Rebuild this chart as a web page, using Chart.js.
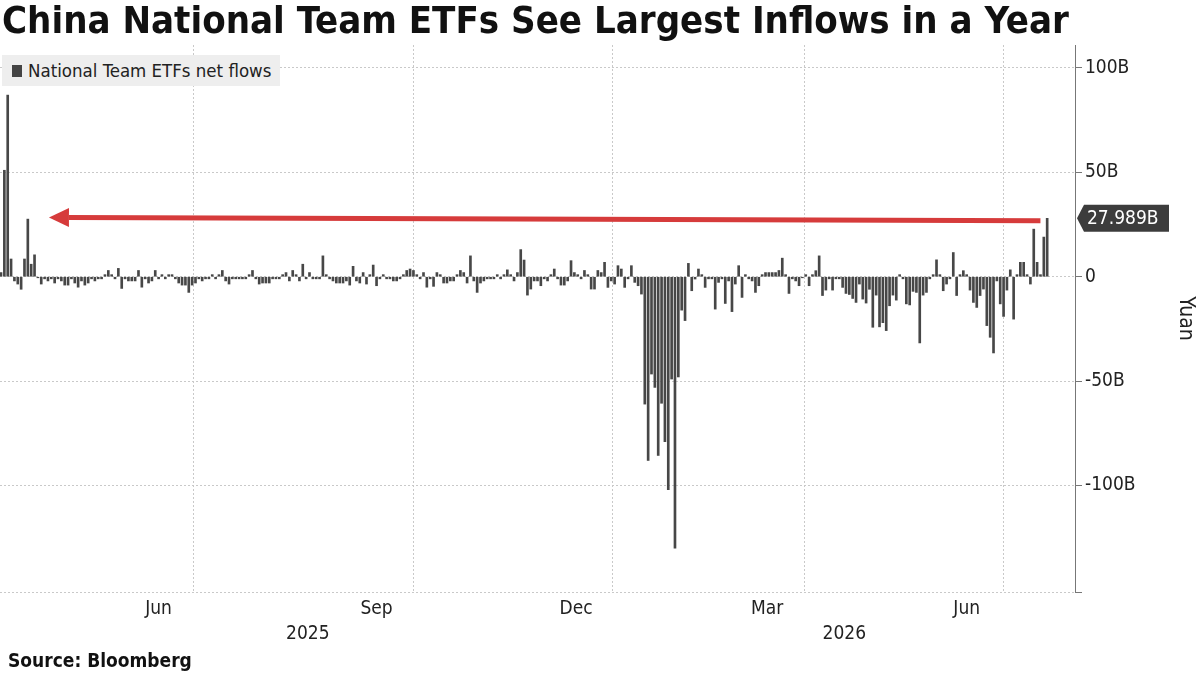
<!DOCTYPE html>
<html>
<head>
<meta charset="utf-8">
<script src="https://cdn.jsdelivr.net/npm/chart.js@4.4.1/dist/chart.umd.min.js"></script>
<style>
  html, body { margin: 0; padding: 0; background: #fff; }
  #wrap { position: relative; width: 1198px; height: 673px; overflow: hidden; }
  #chart { position: absolute; left: 0; top: 0; }
  .title {
    position: absolute; left: 2px; top: -2px; white-space: nowrap;
    font: bold 38px "DejaVu Sans Condensed", "DejaVu Sans", sans-serif; color: #111;
  }
  .legend {
    position: absolute; left: 2px; top: 55px; width: 278px; height: 31px;
    background: #eeeeee; font: 18.5px "DejaVu Sans Condensed", "DejaVu Sans", sans-serif; color: #222;
  }
  .legend i { position: absolute; left: 10px; top: 10px; width: 10px; height: 12px; background: #444; }
  .legend span { position: absolute; left: 26px; top: 5px; white-space: nowrap; }
  .source {
    position: absolute; left: 8px; top: 649px; white-space: nowrap;
    font: bold 19px "DejaVu Sans Condensed", "DejaVu Sans", sans-serif; color: #111;
  }
</style>
</head>
<body>
<div id="wrap">
  <canvas id="chart" width="1198" height="673"></canvas>
  <div class="title">China National Team ETFs See Largest Inflows in a Year</div>
  <div class="legend"><i></i><span>National Team ETFs net flows</span></div>
  <div class="source">Source: Bloomberg</div>
</div>
<script>
// Daily net flows, billion yuan, one value per trading day (Apr 2025 - Jul 2026)
const flowsSpring2025 = [
  2, 51, 87, 8.5, -2, -3.5, -6, 8.5, 27.6, 6, 10.5, -0.5,
  -3.5, -1, -2, -1, -3, -1, -2, -4, -4, -1, -3, -5, -2, -4, -3, -1, -2, -1,
  -1, 1, 3, 1, -1, 4, -5.6, -1, -2, -2, -2, 3, -5, -1, -3, -2, 3, -1, 1, -1,
  1, 1, -1, -3, -4, -4, -7.5, -4, -3, -1, -2, -1, -1,
];
const flowsSummer2025 = [
  1, -1, 1, 3, -2, -3.5, -1, -1, -1, -1, -1, 1, 3, -1, -3.5, -3, -3, -3, -1, -1,
  -1, 1, 2, -2, 3, 1, -2, 6, -1, 2, -1, -1, -1, 10, 1, -1, -2, -3, -3, -3,
  -2, -4, 5, -2, -3, 2, -3.5, 1, 5.6, -4.3, -1, 1, -1, -1, -2, -2, -1, 1, 3, 3.7,
];
const flowsAutumn2025 = [
  3, 1, -1, 2, -5, -1, -4.6, 2, 1, -3, -3, -2, -2, 1, 3, 2, -3, 10, -2, -7.5,
  -3, -2, -1, -1, -1, 1, -1, 1, 3.3, 1, -2, 2, 13, 8, -8.8, -5.9, -2, -2, -4.3, -1,
  -2, 1, 3.7, -1, -4, -4, -2, 7.7, 2, 1, -1, 3, 1, -5.9, -5.9, 3, 2, 6.9, -5.1, -2,
];
const flowsWinter2026 = [
  -3.5, 5.3, 3.7, -5.1, -1, 5.3, -2.7, -4.3, -8.3, -61, -88, -46.6, -53, -85.6, -60.6,
  -79, -102, -49, -130, -48, -16, -21, 6.4, -6.7, -1.1, 3.7, 1, -5.1, -1, -1,
  -15.5, -2.7, -1, -12.8, -2, -16.7, -3.5, 5.3, -9.9, 1, -1, -2, -7.5, -4.3, 1,
  2, 2, 2, 2, 3, 8.9, 1, -8, -1, -2, -4.3, -0.5, 1, -4.3, 1, 2.9, 10, -9, -6.4,
  -1, -6.4, -1, -1, -5.1, -8, -8.5,
];
const flowsSpring2026 = [
  -10.4, -12.3, -3.5, -10.7, -12.6, -6, -24.2, -8.8, -24, -22, -25.8, -13.9, -8.8, -11.2,
  1, -1, -13, -13.5, -7, -7.5, -31.7, -8.8, -7.5, -1, 1, 8.1, 1, -6.7, -3.5, -1,
  11.6, -9, 1, 2.9, 1, -6.4, -12.3, -14.7, -9, -5.9, -23.4, -29, -36.5, -2, -13,
  -19, -6.4, 3.3, -20.3, 1, 6.9, 6.9, 1, -3.5, 22.8, 6.9, 1, 19, 27.989,
];
const flows = [
  ...flowsSpring2025, ...flowsSummer2025, ...flowsAutumn2025,
  ...flowsWinter2026, ...flowsSpring2026,
];

// x positions are trading-day indices
const quarterBreaks = [57.5, 123, 182.5, 239.5, 299];
const monthTickPos = [47, 112, 171.5, 228.5, 288];
const monthTickLabels = ["Jun", "Sep", "Dec", "Mar", "Jun"];
const yearTickPos = [91.5, 251.5];
const yearTickLabels = ["2025", "2026"];
const yTickValues = [-100, -50, 0, 50, 100];
const yTickLabels = ["-100B", "-50B", "0", "50B", "100B"];

// red callout arrow: [index, value] at tail and tip
const arrowTail = [310, 26.8];
const arrowTip = [14.3, 28.4];

const X_MIN = -0.3;
const X_MAX = 320.3;
const Y_MIN = -151;
const Y_MAX = 111;

const FONT = "'DejaVu Sans Condensed', 'DejaVu Sans', sans-serif";
const INK = "#222";
const GRID = "#c9c9c9";

const arrowPlugin = {
  id: "redArrow",
  afterDatasetsDraw(chart) {
    const { ctx, scales } = chart;
    const x1 = scales.x.getPixelForValue(arrowTail[0]);
    const y1 = scales.y.getPixelForValue(arrowTail[1]);
    const x2 = scales.x.getPixelForValue(arrowTip[0]);
    const y2 = scales.y.getPixelForValue(arrowTip[1]);
    const ang = Math.atan2(y2 - y1, x2 - x1);
    const headLen = 20;
    const headHalf = 9.5;
    const bx = x2 - headLen * Math.cos(ang);
    const by = y2 - headLen * Math.sin(ang);
    ctx.save();
    ctx.strokeStyle = "#d63b3b";
    ctx.fillStyle = "#d63b3b";
    ctx.lineWidth = 5;
    ctx.beginPath();
    ctx.moveTo(x1, y1);
    ctx.lineTo(bx, by);
    ctx.stroke();
    ctx.beginPath();
    ctx.moveTo(x2, y2);
    ctx.lineTo(bx - headHalf * Math.sin(ang), by + headHalf * Math.cos(ang));
    ctx.lineTo(bx + headHalf * Math.sin(ang), by - headHalf * Math.cos(ang));
    ctx.closePath();
    ctx.fill();
    ctx.restore();
  },
};

// dark tag with the latest value next to the right axis
const lastValuePlugin = {
  id: "lastValueTag",
  afterDraw(chart) {
    const { ctx, chartArea, scales } = chart;
    const last = flows[flows.length - 1];
    const py = scales.y.getPixelForValue(last);
    const tip = chartArea.right + 2;
    const boxL = tip + 7;
    const boxW = 85;
    const h = 27;
    ctx.save();
    ctx.fillStyle = "#3c3c3c";
    ctx.beginPath();
    ctx.moveTo(tip, py);
    ctx.lineTo(boxL, py - h / 2);
    ctx.lineTo(boxL + boxW, py - h / 2);
    ctx.lineTo(boxL + boxW, py + h / 2);
    ctx.lineTo(boxL, py + h / 2);
    ctx.closePath();
    ctx.fill();
    ctx.fillStyle = "#fff";
    ctx.font = "19px " + FONT;
    ctx.textBaseline = "middle";
    ctx.textAlign = "left";
    ctx.fillText(last.toFixed(3) + "B", boxL + 3, py + 1);
    ctx.restore();
  },
};

const labelAxis = (ticksPos, labels, height, weight, padding) => ({
  type: "linear",
  position: "bottom",
  min: X_MIN,
  max: X_MAX,
  offset: false,
  weight,
  afterBuildTicks: (ax) => {
    ax.ticks = ticksPos.map((v) => ({ value: v }));
  },
  afterFit: (ax) => {
    ax.height = height;
  },
  ticks: {
    autoSkip: false,
    maxRotation: 0,
    padding,
    color: INK,
    font: { family: FONT, size: 19 },
    callback: (v, i) => labels[i],
  },
  grid: { display: false, drawTicks: false, offset: false },
  border: { display: false },
});

new Chart(document.getElementById("chart"), {
  type: "bar",
  data: {
    datasets: [
      {
        label: "National Team ETFs net flows",
        data: flows.map((v, i) => ({ x: i, y: v })),
        backgroundColor: "#474747",
        barThickness: 2,
        xAxisID: "x",
        yAxisID: "y",
      },
    ],
  },
  options: {
    responsive: false,
    animation: false,
    layout: { padding: { top: 45, bottom: 23, left: 0, right: 0 } },
    plugins: { legend: { display: false }, tooltip: { enabled: false } },
    scales: {
      x: {
        type: "linear",
        position: "bottom",
        min: X_MIN,
        max: X_MAX,
        offset: false,
        weight: 0,
        afterBuildTicks: (ax) => {
          ax.ticks = quarterBreaks.map((v) => ({ value: v }));
        },
        afterFit: (ax) => {
          ax.height = 0;
        },
        ticks: { display: false },
        grid: { color: GRID, drawTicks: false, offset: false },
        border: { display: false, dash: [2, 2] },
      },
      xm: labelAxis(monthTickPos, monthTickLabels, 28, 1, 6),
      xy: labelAxis(yearTickPos, yearTickLabels, 30, 2, 3),
      y: {
        position: "right",
        min: Y_MIN,
        max: Y_MAX,
        afterBuildTicks: (ax) => {
          ax.ticks = [{ value: ax.min }, ...yTickValues.map((v) => ({ value: v }))];
        },
        afterFit: (ax) => {
          ax.width = 123;
        },
        ticks: {
          padding: 3,
          color: INK,
          font: { family: FONT, size: 19 },
          callback: (v) => {
            const k = yTickValues.indexOf(v);
            return k >= 0 ? yTickLabels[k] : "";
          },
        },
        grid: { color: GRID, tickColor: "#777", tickLength: 7 },
        border: { display: true, color: "#777", dash: [2, 2] },
        title: {
          display: true,
          text: "Yuan",
          color: INK,
          font: { family: FONT, size: 21 },
          padding: { top: 0, bottom: 4 },
        },
      },
    },
  },
  plugins: [arrowPlugin, lastValuePlugin],
});
</script>
</body>
</html>
